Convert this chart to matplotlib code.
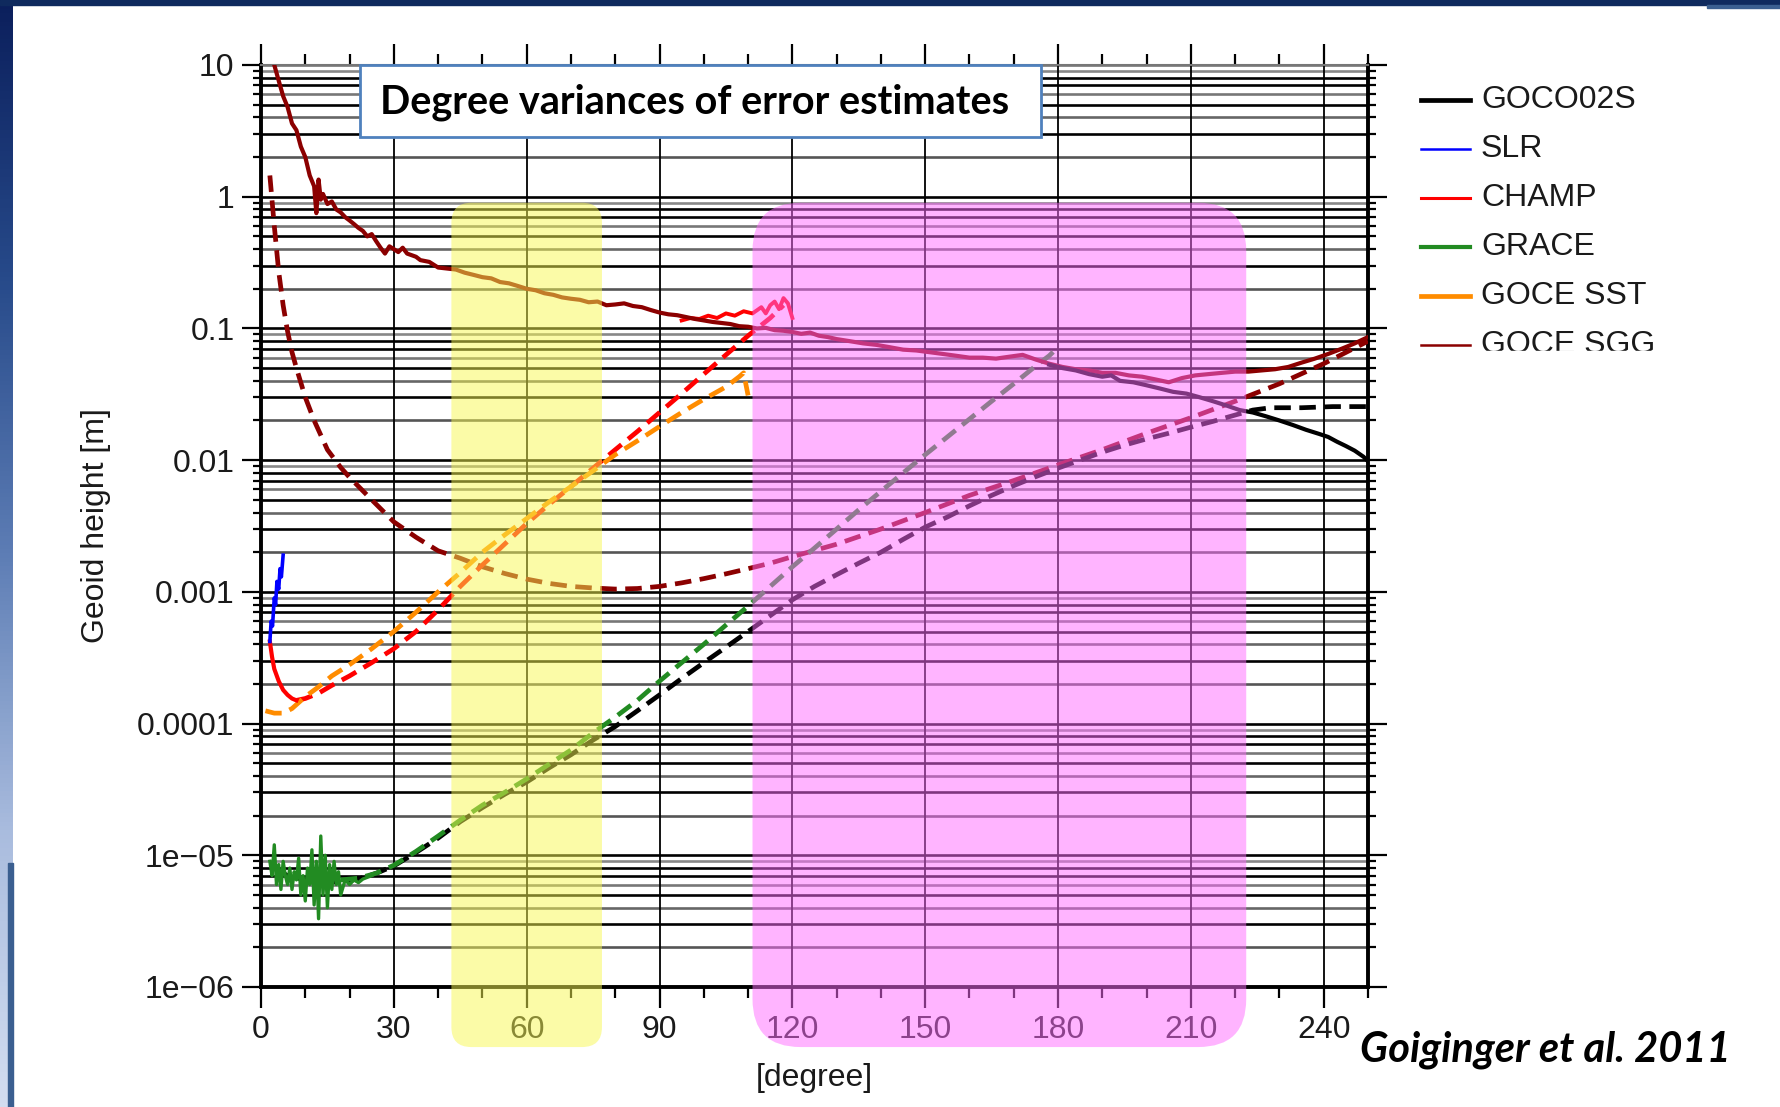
import numpy as np
import matplotlib
matplotlib.use('Agg')
import matplotlib.pyplot as plt
from matplotlib.patches import FancyBboxPatch, Rectangle
from matplotlib.lines import Line2D
from matplotlib.transforms import IdentityTransform
from matplotlib.ticker import FixedLocator, MultipleLocator, LogLocator, NullFormatter
from matplotlib.colors import LinearSegmentedColormap

plt.rcParams['font.family'] = ['Liberation Sans', 'DejaVu Sans']

# ---- data (degree, geoid height in m) ----
sgg_deg = [3, 4, 5, 6, 7, 8, 9, 10, 11, 12, 12.5, 13, 13.5, 14, 15, 16, 17, 18, 19, 20,
           21, 22, 23, 24, 25, 26, 27, 28, 29, 30, 31, 32, 33, 34, 35, 36, 38, 40, 42, 44,
           46, 48, 50, 52, 54, 56, 58, 60, 62, 64, 66, 68, 70, 72, 74, 76, 78, 80, 82, 84,
           86, 88, 90, 92, 94, 96, 98, 100, 102, 104, 106, 108, 110, 112, 114, 116, 118, 120,
           122, 124, 126, 128, 130, 133, 136, 139, 142, 145, 148, 151, 154, 157, 160, 163,
           166, 169, 172, 175, 178, 181, 184, 187, 190, 193, 196, 199, 202, 205, 208, 211,
           214, 217, 220, 223, 226, 229, 232, 235, 238, 241, 244, 247, 250]
sgg_val = [10.0, 7.6, 5.8, 4.8, 3.6, 3.2, 2.4, 2.0, 1.45, 1.2, 0.75, 1.35, 0.95, 1.05, 0.88,
           0.92, 0.80, 0.76, 0.70, 0.66, 0.62, 0.58, 0.55, 0.50, 0.52, 0.46, 0.41, 0.37, 0.42,
           0.40, 0.38, 0.41, 0.37, 0.36, 0.35, 0.33, 0.32, 0.29, 0.285, 0.28, 0.265, 0.255,
           0.245, 0.24, 0.225, 0.22, 0.21, 0.20, 0.195, 0.185, 0.18, 0.172, 0.168, 0.165,
           0.158, 0.160, 0.150, 0.152, 0.155, 0.148, 0.145, 0.138, 0.132, 0.128, 0.126, 0.122,
           0.118, 0.115, 0.112, 0.110, 0.108, 0.104, 0.103, 0.100, 0.101, 0.097, 0.096, 0.094,
           0.091, 0.093, 0.088, 0.086, 0.083, 0.080, 0.077, 0.075, 0.072, 0.069, 0.068, 0.066,
           0.064, 0.062, 0.060, 0.060, 0.059, 0.061, 0.063, 0.058, 0.054, 0.051, 0.049, 0.048,
           0.046, 0.046, 0.044, 0.043, 0.041, 0.039, 0.042, 0.044, 0.045, 0.046, 0.047, 0.047,
           0.048, 0.049, 0.051, 0.055, 0.059, 0.064, 0.070, 0.077, 0.086]

sggd_deg = [2, 3, 4, 5, 6, 7, 8, 10, 12, 15, 18, 20, 25, 30, 35, 40, 45, 50, 55, 60, 65, 70,
            75, 80, 85, 90, 95, 100, 105, 110, 115, 120, 130, 140, 150, 160, 170, 180, 190,
            200, 210, 220, 230, 240, 250]
sggd_val = [1.45, 0.6, 0.27, 0.15, 0.095, 0.066, 0.05, 0.03, 0.02, 0.012, 8.8e-3, 7.4e-3,
            5e-3, 3.4e-3, 2.6e-3, 2.05e-3, 1.8e-3, 1.55e-3, 1.38e-3, 1.25e-3, 1.16e-3, 1.1e-3,
            1.07e-3, 1.05e-3, 1.06e-3, 1.1e-3, 1.17e-3, 1.26e-3, 1.37e-3, 1.5e-3, 1.65e-3,
            1.85e-3, 2.3e-3, 3.0e-3, 4.0e-3, 5.4e-3, 7.0e-3, 9.2e-3, 1.2e-2, 1.6e-2, 2.1e-2,
            2.8e-2, 3.8e-2, 5.4e-2, 8.0e-2]

goco_deg = [178, 181, 184, 187, 190, 192, 194, 197, 200, 203, 206, 209, 212, 215, 218, 221,
            224, 227, 230, 233, 236, 239, 241, 243, 245, 247, 249, 250]
goco_val = [0.053, 0.050, 0.048, 0.045, 0.043, 0.044, 0.040, 0.039, 0.037, 0.035, 0.033,
            0.032, 0.030, 0.028, 0.026, 0.024, 0.023, 0.0215, 0.020, 0.0185, 0.017, 0.0158,
            0.015, 0.0138, 0.0128, 0.0118, 0.0106, 0.0098]

gocod_deg = [3, 6, 10, 14, 18, 22, 26, 30, 35, 40, 45, 50, 55, 60, 65, 70, 75, 80, 85, 90, 95,
             100, 105, 110, 115, 120, 125, 130, 135, 140, 145, 150, 155, 160, 165, 170, 175,
             180, 185, 190, 195, 200, 205, 210, 215, 220, 224, 228, 235, 242, 250]
gocod_val = [8e-6, 7e-6, 6.5e-6, 6.3e-6, 6.3e-6, 6.6e-6, 7.3e-6, 8.3e-6, 1.05e-5, 1.35e-5,
             1.8e-5, 2.3e-5, 2.9e-5, 3.6e-5, 4.6e-5, 5.8e-5, 7.5e-5, 9.5e-5, 1.25e-4, 1.65e-4,
             2.2e-4, 2.9e-4, 3.8e-4, 5e-4, 6.6e-4, 8.7e-4, 1.1e-3, 1.35e-3, 1.65e-3, 2e-3,
             2.5e-3, 3.1e-3, 3.7e-3, 4.5e-3, 5.4e-3, 6.4e-3, 7.5e-3, 8.7e-3, 1.0e-2, 1.15e-2,
             1.3e-2, 1.45e-2, 1.6e-2, 1.78e-2, 1.97e-2, 2.2e-2, 2.4e-2, 2.5e-2, 2.5e-2,
             2.55e-2, 2.55e-2]

grace_deg = [2, 2.5, 3, 3.5, 4, 4.5, 5, 5.5, 6, 6.5, 7, 7.5, 8, 8.5, 9, 9.5, 10, 10.5, 11,
             11.5, 12, 12.5, 13, 13.5, 14, 14.5, 15, 15.5, 16, 16.5, 17, 17.5, 18, 19, 20, 21,
             22, 23, 24, 25]
grace_val = [9e-6, 7e-6, 12e-6, 6e-6, 8.5e-6, 5.5e-6, 9e-6, 7e-6, 6e-6, 8e-6, 5.5e-6, 7.5e-6,
             6.5e-6, 9.5e-6, 5e-6, 7e-6, 4.5e-6, 8e-6, 6e-6, 11e-6, 4.2e-6, 9e-6, 3.3e-6,
             14e-6, 5e-6, 10e-6, 4e-6, 8.5e-6, 5.5e-6, 9e-6, 6e-6, 7.5e-6, 5e-6, 6.5e-6, 6e-6,
             6.5e-6, 6.2e-6, 6.6e-6, 6.8e-6, 7e-6]

graced_deg = [18, 22, 26, 30, 35, 40, 45, 50, 55, 60, 65, 70, 75, 80, 85, 90, 95, 100, 105,
              110, 115, 120, 125, 130, 135, 140, 145, 150, 155, 160, 165, 170, 175, 178, 180]
graced_val = [6.5e-6, 6.7e-6, 7.3e-6, 8.4e-6, 1.07e-5, 1.4e-5, 1.85e-5, 2.4e-5, 3.0e-5,
              3.8e-5, 4.9e-5, 6.3e-5, 8.5e-5, 1.12e-4, 1.5e-4, 2.1e-4, 2.9e-4, 4.0e-4, 5.6e-4,
              7.8e-4, 1.1e-3, 1.55e-3, 2.15e-3, 3.0e-3, 4.2e-3, 5.8e-3, 8e-3, 1.1e-2, 1.5e-2,
              2.05e-2, 2.8e-2, 3.8e-2, 5.2e-2, 6.2e-2, 7.2e-2]

slr_deg = [2, 2.3, 2.6, 3, 3.3, 3.6, 4, 4.3, 4.6, 5]
slr_val = [4.2e-4, 6e-4, 5.5e-4, 9e-4, 8e-4, 1.2e-3, 1.05e-3, 1.5e-3, 1.3e-3, 1.9e-3]

champ_lo_deg = [2, 2.5, 3, 4, 5, 6, 7, 8]
champ_lo_val = [4.2e-4, 3.2e-4, 2.6e-4, 2.1e-4, 1.8e-4, 1.65e-4, 1.55e-4, 1.5e-4]
champ_hi_deg = [95, 97, 99, 101, 103, 105, 107, 109, 111, 113, 114, 115, 116, 117, 118, 119, 120]
champ_hi_val = [0.115, 0.12, 0.118, 0.125, 0.12, 0.13, 0.125, 0.135, 0.13, 0.145, 0.13, 0.15,
                0.16, 0.14, 0.17, 0.155, 0.12]

champd_deg = [8, 10, 13, 16, 20, 25, 30, 35, 40, 45, 50, 55, 60, 65, 70, 75, 80, 85, 90, 95,
              100, 105, 110, 115, 118]
champd_val = [1.5e-4, 1.55e-4, 1.7e-4, 1.95e-4, 2.3e-4, 2.9e-4, 3.7e-4, 5e-4, 7.3e-4, 1.1e-3,
              1.6e-3, 2.3e-3, 3.3e-3, 4.6e-3, 6.3e-3, 8.7e-3, 1.2e-2, 1.65e-2, 2.3e-2, 3.2e-2,
              4.5e-2, 6.3e-2, 8.8e-2, 0.12, 0.15]

sstd_deg = [1, 3, 5, 7, 10, 13, 16, 20, 25, 30, 35, 40, 45, 50, 55, 60, 65, 70, 75, 80, 85,
            90, 95, 100, 105, 108, 109, 110]
sstd_val = [1.25e-4, 1.2e-4, 1.2e-4, 1.3e-4, 1.6e-4, 1.9e-4, 2.3e-4, 2.8e-4, 3.7e-4, 5e-4,
            7e-4, 1.0e-3, 1.4e-3, 2.0e-3, 2.7e-3, 3.6e-3, 4.8e-3, 6.3e-3, 8.3e-3, 1.1e-2,
            1.4e-2, 1.8e-2, 2.3e-2, 2.9e-2, 3.6e-2, 4.3e-2, 4.6e-2, 3.1e-2]

legend_names = ['GOCO02S', 'SLR', 'CHAMP', 'GRACE', 'GOCE SST', 'GOCE SGG']
legend_colors = ['black', '#0000ff', '#ff0000', '#228b22', '#ff8c00', '#8b0000']
legend_widths = [3.4, 1.8, 2.2, 3.0, 3.4, 1.8]

y_ticks = [1e-6, 1e-5, 1e-4, 1e-3, 1e-2, 1e-1, 1, 10]
y_labels = ['1e\u221206', '1e\u221205', '0.0001', '0.001', '0.01', '0.1', '1', '10']

region_spans = [(43, 77), (111, 222.5)]
region_y = (3.5e-7, 0.9)
region_colors = ['#f8f850', '#ff6bff']
region_round = [20, 48]

# ---- figure ----
W, H = 1780, 1107
fig = plt.figure(figsize=(W / 100, H / 100), dpi=100)
fig.patch.set_facecolor('white')

# slide frame
strip = fig.add_axes([0, 0, 13 / W, 1])
strip.axis('off')
cmap = LinearSegmentedColormap.from_list('slide', ['#0b1f5c', '#274a8a', '#5d7db5', '#a9bcde', '#d3ddf0'])
strip.imshow(np.linspace(0, 1, 256).reshape(-1, 1), aspect='auto', cmap=cmap, extent=[0, 1, 0, 1])
fig.add_artist(Rectangle((8 / W, 0), 5 / W, 0.22, transform=fig.transFigure, color='#3b5f90', zorder=2))
fig.add_artist(Rectangle((0, 1 - 5 / H), 1, 5 / H, transform=fig.transFigure, color='#0f2a5e', zorder=2))
fig.add_artist(Rectangle((1707 / W, 1 - 8 / H), 73 / W, 3 / H, transform=fig.transFigure, color='#3b5f90', zorder=2))

ax = fig.add_axes([261 / W, 1 - 987 / H, (1368 - 261) / W, (987 - 65) / H])
ax.set_yscale('log')
ax.set_xlim(0, 250)
ax.set_ylim(1e-6, 10)

# horizontal grid at every decade and sub-decade
shade = {1: 'black', 2: '#555555', 3: 'black', 4: '#666666', 5: 'black',
         6: '#777777', 7: 'black', 8: 'black', 9: '#888888'}
for e in range(-6, 1):
    for m in range(1, 10):
        ax.axhline(m * 10.0 ** e, color=shade[m], lw=1.9, zorder=1)
ax.axhline(10, color='#777777', lw=1.9, zorder=1)
ax.xaxis.set_major_locator(MultipleLocator(30))
ax.xaxis.set_minor_locator(MultipleLocator(10))
ax.grid(axis='x', which='major', color='black', lw=1.3, zorder=1)

ax.yaxis.set_major_locator(FixedLocator(y_ticks))
ax.set_yticklabels(y_labels)
ax.yaxis.set_minor_locator(LogLocator(base=10, subs=range(2, 10)))
ax.yaxis.set_minor_formatter(NullFormatter())

ax.tick_params(axis='both', which='both', direction='out', labelsize=23,
               labelcolor='#1a1a1a', width=1.6)
ax.tick_params(axis='x', which='major', length=15, pad=5, top=True)
ax.tick_params(axis='x', which='minor', length=8, top=True)
ax.tick_params(axis='y', which='major', length=14, pad=5, right=True)
ax.tick_params(axis='y', which='minor', length=6, right=True)
for side in ['left', 'right', 'bottom']:
    ax.spines[side].set_linewidth(2.8)
ax.spines['top'].set_color('#777777')
ax.spines['top'].set_linewidth(1.5)

dash = (3.5, 1.8)
ax.plot(sggd_deg, sggd_val, color='#8b0000', lw=3.4, dashes=dash, zorder=4)
ax.plot(gocod_deg, gocod_val, color='black', lw=3.4, dashes=dash, zorder=4)
ax.plot(graced_deg, graced_val, color='#228b22', lw=3.4, dashes=dash, zorder=4)
ax.plot(champd_deg, champd_val, color='#ff0000', lw=3.4, dashes=dash, zorder=4)
ax.plot(sstd_deg, sstd_val, color='#ff8c00', lw=3.4, dashes=dash, zorder=4)
ax.plot(champ_hi_deg, champ_hi_val, color='#ff0000', lw=2.8, zorder=5)
ax.plot(sgg_deg, sgg_val, color='#8b0000', lw=3.0, zorder=5)
ax.plot(goco_deg, goco_val, color='black', lw=3.0, zorder=6)
ax.plot(champ_lo_deg, champ_lo_val, color='#ff0000', lw=3.0, zorder=6)
ax.plot(slr_deg, slr_val, color='#0000ff', lw=2.6, zorder=6)
ax.plot(grace_deg, grace_val, color='#228b22', lw=2.4, zorder=6)

# highlighted degree bands, drawn over the plot as on the slide
for (x0, x1), col, r in zip(region_spans, region_colors, region_round):
    px0, py0 = ax.transData.transform((x0, region_y[0]))
    px1, py1 = ax.transData.transform((x1, region_y[1]))
    fig.add_artist(FancyBboxPatch((px0, py0), px1 - px0, py1 - py0,
                                  boxstyle=f'round,pad=0,rounding_size={r}',
                                  transform=IdentityTransform(), facecolor=col,
                                  edgecolor='none', alpha=0.5, zorder=3))

fig.text(96 / W, 1 - 526 / H, 'Geoid height [m]', rotation=90, ha='center', va='center',
         fontsize=23, color='#1a1a1a')
fig.text(814 / W, 1 - 1078 / H, '[degree]', ha='center', va='center', fontsize=23,
         color='#1a1a1a')

# legend (last entry cut off at the bottom, as on the slide)
for i, (name, col, lw) in enumerate(zip(legend_names, legend_colors, legend_widths)):
    yy = 1 - (100 + 49 * i) / H
    fig.add_artist(Line2D([1421 / W, 1470 / W], [yy, yy], color=col, lw=lw,
                          transform=fig.transFigure, zorder=4))
    fig.text(1481 / W, yy, name, ha='left', va='center', fontsize=23, color='#1a1a1a', zorder=4)
fig.add_artist(Rectangle((1400 / W, 1 - 400 / H), 360 / W, 49 / H, transform=fig.transFigure,
                         color='white', zorder=5))

# title box
fig.add_artist(Rectangle((360 / W, 1 - 137 / H), 681 / W, 72 / H, transform=fig.transFigure,
                         facecolor='white', edgecolor='#4f81bd', lw=2, zorder=6))
fig.text(380 / W, 1 - 102 / H, 'Degree variances of error estimates', ha='left', va='center',
         fontsize=28.5, fontweight='bold', family=['Lato', 'DejaVu Sans'], color='black', zorder=7)

fig.text(1731 / W, 1 - 1050 / H, 'Goiginger et al. 2011', ha='right', va='center',
         fontsize=30, fontweight='bold', fontstyle='italic', family=['Lato', 'DejaVu Sans'],
         color='black', zorder=7)

fig.savefig('out.png', dpi=100)
